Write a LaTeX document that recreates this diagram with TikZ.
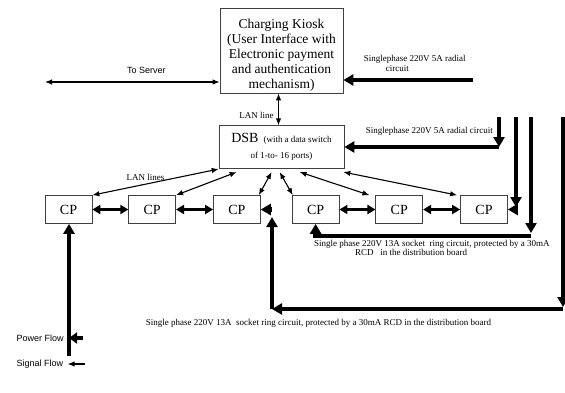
\documentclass[tikz,border=0pt]{standalone}
\usepackage{fontspec}
\setmainfont{Liberation Serif}
\setsansfont{Liberation Sans}
\usetikzlibrary{
    arrows.meta,
    positioning,
    calc
}

\begin{document}
\begin{tikzpicture}[
    x=1pt, y=-1pt,
    >={Latex[length=7pt,width=5.5pt]},
    box/.style={rectangle, draw=black!75, line width=0.7pt,
                inner sep=0pt, align=center},
    cpbox/.style={box, minimum width=47pt, minimum height=28pt,
                  font=\fontsize{14}{15}\selectfont},
    sig/.style={line width=1.1pt},
    pwr/.style={line width=4.5pt, -{Triangle[length=10pt,width=11pt]}},
    pwrtwo/.style={line width=3.5pt,
                   {Triangle[length=8pt,width=9pt]}-{Triangle[length=8pt,width=9pt]}},
    lab/.style={font=\fontsize{9}{9.5}\selectfont},
    slab/.style={font=\sffamily\fontsize{9}{10}\selectfont}
]
\useasboundingbox (0,0) rectangle (565,392);

% =========================
% 1) KIOSK AND DSB
% =========================
\node[box, minimum width=123pt, minimum height=85pt,
      font=\fontsize{13.5}{15}\selectfont] (kiosk) at (281.5,50.5)
    {\rule{0pt}{18pt}Charging Kiosk\\(User Interface with\\Electronic payment\\and authentication\\mechanism)};
\node[box, minimum width=125pt, minimum height=43pt, below=32pt of kiosk] (dsb)
    {{\fontsize{14}{15}\selectfont DSB}\ \ {\fontsize{9}{10}\selectfont (with a data switch}\\[4pt]
     {\fontsize{9}{10}\selectfont of 1-to- 16 ports)}};

% =========================
% 2) CHARGING POINTS
% =========================
\node[cpbox] (cp1) at (68.5,209.5) {CP};
\node[cpbox, right=36pt of cp1] (cp2) {CP};
\node[cpbox, right=37pt of cp2] (cp3) {CP};
\node[cpbox, right=31pt of cp3] (cp4) {CP};
\node[cpbox, right=36pt of cp4] (cp5) {CP};
\node[cpbox, right=37pt of cp5] (cp6) {CP};

% free ends
\coordinate (srv)   at (45,82);
\coordinate (feedK) at (473,80);
\coordinate (feedD) at (499,117);
\coordinate (feed6) at (516,117);
\coordinate (feed4) at (531,117);
\coordinate (feed3) at (563,117);
\coordinate (ret3)  at (272,309);
\coordinate (feed1) at (69,356);

% =========================
% 3) SIGNAL FLOW
% =========================
\draw[sig, <->] (srv) -- (srv -| kiosk.west)
    node[pos=0.58, above=5pt, slab] (tosrv) {To Server};
\draw[sig, <->] ([xshift=-3pt]kiosk.south) -- ([xshift=-3pt]kiosk.south |- dsb.north)
    node[pos=0.7, left=1pt, lab] (lanlbl) {LAN line};

\draw[sig, <->] (dsb.south west) -- (cp1.north east)
    node[pos=0.58, above, lab] (lanslbl) {LAN lines};
\draw[sig, <->] ([xshift=18pt, yshift=-3pt]dsb.south west) -- (cp2.north east);
\draw[sig, <->] ([xshift=53pt, yshift=-3pt]dsb.south west) -- ([xshift=-2pt]cp3.north east);
\draw[sig, <->] ([xshift=61pt, yshift=-3pt]dsb.south west) -- ([xshift=1pt]cp4.north west);
\draw[sig, <->] ([xshift=81pt, yshift=-3pt]dsb.south west) -- ([xshift=-6pt]cp5.north west);
\draw[sig, <->] ([xshift=-1pt, yshift=-3pt]dsb.south east) -- ([xshift=-3pt]cp6.north west);

% =========================
% 4) POWER FLOW
% =========================
\draw[pwr] (feedK) -- (feedK -| kiosk.east)
    node[pos=0.45, above=3pt, lab, align=left] (kfeedlbl)
    {Singlephase 220V 5A radial\\\hspace{22pt}circuit};

\draw[pwr] (feedD) -- ++(0,30) coordinate (bendD);
\draw[pwr] (bendD) -- (bendD -| dsb.east)
    node[pos=0.45, above=6pt, lab] (dfeedlbl) {Singlephase 220V 5A radial circuit};

\draw[pwr] (feed6) -- ++(0,90) coordinate (bend6);
\draw[pwr] (bend6 |- cp6.east) -- (cp6.east);

\draw[pwr] (feed4) -- ++(0,116) coordinate (bend4);
\draw[pwr] ([yshift=-3pt]bend4) -| (cp4.south);
\node[lab, anchor=north west, align=left, inner sep=0pt] (ringA) at (314,240)
    {Single phase 220V 13A socket\ \ ring circuit, protected by a 30mA\\
     \hspace{41pt}RCD\ \ \ in the distribution board};

\draw[pwr] (feed3) -- ++(0,190) coordinate (bend3);
\draw[pwr] (bend3 |- ret3) -- (ret3)
    node[pos=0.84, below=5pt, lab] (ringB)
    {Single phase 220V 13A\ \ socket ring circuit, protected by a 30mA RCD in the distribution board};
\draw[pwr] (ret3) -- ++(0,-92) coordinate (up3);
\draw[pwr] (up3 |- cp3.east) -- (cp3.east);

\draw[pwr] (feed1) -- (feed1 |- cp1.south);

\draw[pwrtwo] (cp1) -- (cp2);
\draw[pwrtwo] (cp2) -- (cp3);
\draw[pwrtwo] (cp4) -- (cp5);
\draw[pwrtwo] (cp5) -- (cp6);

% Legend
\node[slab, anchor=west] (pflow) at (13,338) {Power Flow};
\draw[line width=3.5pt, -{Triangle[length=8pt,width=11pt]}]
    ([xshift=16pt]pflow.east) -- ([xshift=2pt]pflow.east);
\node[slab, anchor=west] (sflow) at (13,364) {Signal Flow};
\draw[sig, ->] ([xshift=18pt]sflow.east) -- ([xshift=1pt]sflow.east);

\end{tikzpicture}
\end{document}
